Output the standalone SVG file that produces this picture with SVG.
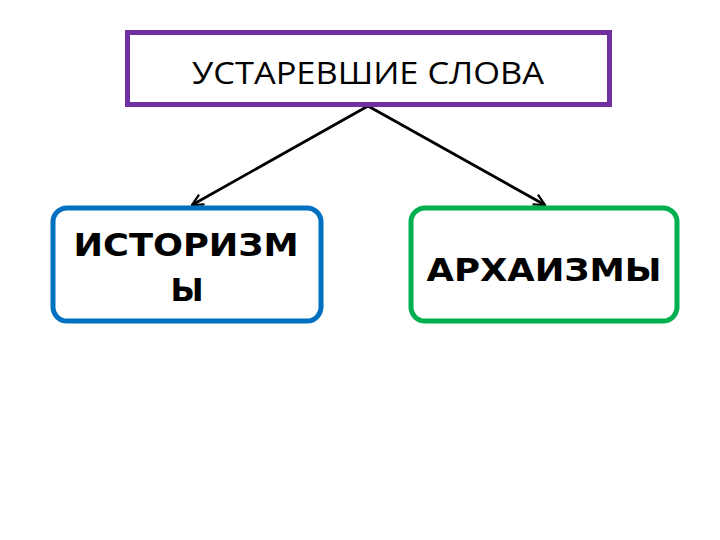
<svg xmlns="http://www.w3.org/2000/svg" width="720" height="540" viewBox="0 0 720 540">
<defs>
<style>
.title{font-family:"Open Sans","Liberation Sans",sans-serif;font-size:31px;fill:#000}
.lbl{font-family:"DejaVu Sans","Liberation Sans",sans-serif;font-weight:bold;font-size:32px;fill:#000}
.conn{stroke:#000;stroke-width:2.8;fill:none;marker-end:url(#arr)}
</style>
<marker id="arr" viewBox="0 0 10 10" refX="9" refY="5" markerWidth="5" markerHeight="5" orient="auto" markerUnits="strokeWidth">
<path d="M1,1 L9,5 L1,9" fill="none" stroke="#000" stroke-width="1.6"/>
</marker>
</defs>
<rect width="720" height="540" fill="#fff"/>
<g id="connectors">
<line class="conn" x1="368" y1="106" x2="192" y2="205"/>
<line class="conn" x1="368" y1="106" x2="545" y2="205"/>
</g>
<g id="root">
<rect x="127.5" y="32.5" width="482" height="72" fill="#fff" stroke="#7030A0" stroke-width="5"/>
<text class="title" x="368" y="84" text-anchor="middle" textLength="352" lengthAdjust="spacingAndGlyphs">УСТАРЕВШИЕ СЛОВА</text>
</g>
<g id="historisms">
<rect x="53" y="208" width="268" height="113" rx="14" fill="#fff" stroke="#0070C0" stroke-width="5"/>
<text class="lbl" x="186" y="256" text-anchor="middle" textLength="225" lengthAdjust="spacingAndGlyphs">ИСТОРИЗМ</text>
<text class="lbl" x="187" y="301" text-anchor="middle">Ы</text>
</g>
<g id="archaisms">
<rect x="411" y="208" width="266" height="113" rx="14" fill="#fff" stroke="#00B050" stroke-width="5"/>
<text class="lbl" x="544" y="281" text-anchor="middle" textLength="235" lengthAdjust="spacingAndGlyphs">АРХАИЗМЫ</text>
</g>
</svg>
